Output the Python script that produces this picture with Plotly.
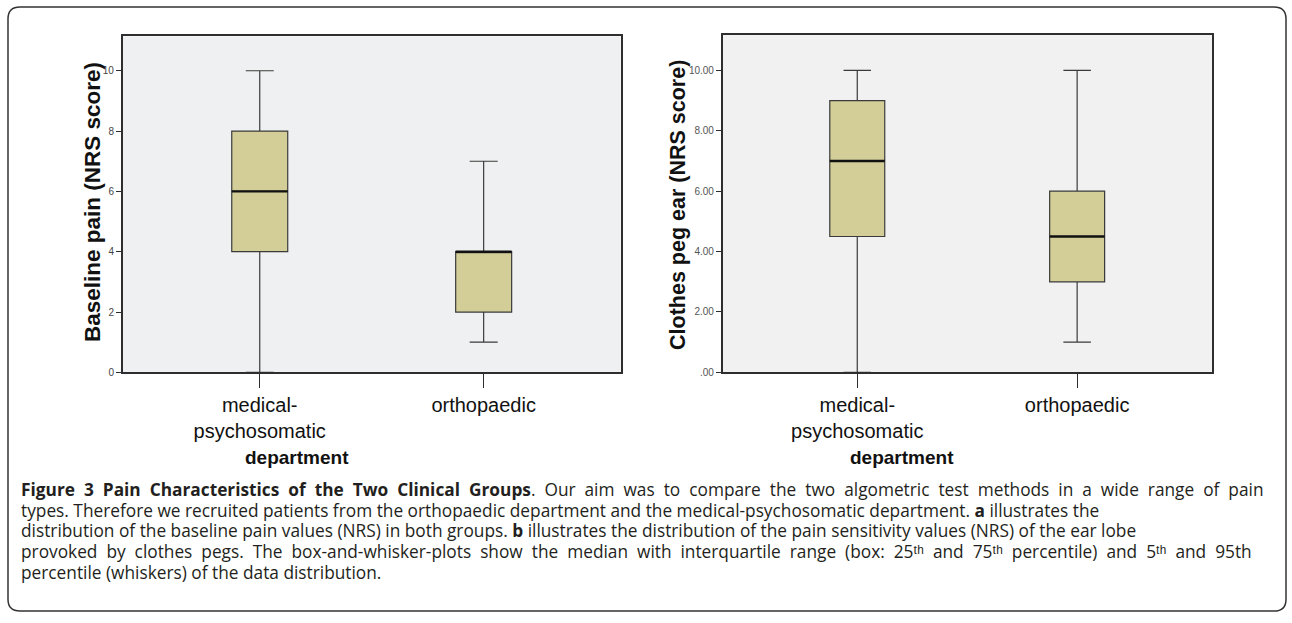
import plotly.graph_objects as go

W, H = 1292, 623

# ---- data ----
categories = ["medical-psychosomatic", "orthopaedic"]
cat_labels = ["medical-<br>psychosomatic", "orthopaedic"]

# panel a: Baseline pain (NRS score)
a_lower = [0, 1]
a_q1 = [4, 2]
a_median = [6, 4]
a_q3 = [8, 4]
a_upper = [10, 7]

# panel b: Clothes peg ear (NRS score)
b_lower = [0, 1]
b_q1 = [4.5, 3]
b_median = [7, 4.5]
b_q3 = [9, 6]
b_upper = [10, 10]

a_ticks = [0, 2, 4, 6, 8, 10]
b_ticks = [0, 2, 4, 6, 8, 10]
b_ticktext = [f"{v:.2f}".lstrip("0") if v < 1 else f"{v:.2f}" for v in b_ticks]

TH = "\u1d57\u02b0"  # superscript "th"
caption_lines = [
    ("<b>Figure 3 Pain Characteristics of the Two Clinical Groups</b>. Our aim was to compare the two algometric test methods in a wide range of pain", True),
    ("types. Therefore we recruited patients from the orthopaedic department and the medical-psychosomatic department. <b>a</b> illustrates the", False),
    ("distribution of the baseline pain values (NRS) in both groups. <b>b</b> illustrates the distribution of the pain sensitivity values (NRS) of the ear lobe", False),
    (f"provoked by clothes pegs. The box-and-whisker-plots show the median with interquartile range (box: 25{TH} and 75{TH} percentile) and 5{TH} and 95th", True),
    ("percentile (whiskers) of the data distribution.", False),
]

# ---- styling helpers ----
def px_x(p):
    return p / W

def px_y(p):
    return 1 - p / H

BOX_FILL = "#d3ce97"
BOX_W = 0.25

fig = go.Figure()

def add_boxes(xaxis, yaxis, lower, q1, med, q3, upper):
    fig.add_trace(go.Box(
        x=categories, lowerfence=lower, q1=q1, median=med, q3=q3, upperfence=upper,
        width=BOX_W, whiskerwidth=0.5, fillcolor=BOX_FILL,
        line=dict(color="#3a3a3a", width=1.2), boxpoints=False,
        xaxis=xaxis, yaxis=yaxis, showlegend=False, hoverinfo="skip",
    ))
    # thicker median line overlay
    fig.add_trace(go.Box(
        x=categories, lowerfence=med, q1=med, median=med, q3=med, upperfence=med,
        width=BOX_W, whiskerwidth=0, fillcolor="rgba(0,0,0,0)",
        line=dict(color="#111111", width=2.4), boxpoints=False,
        xaxis=xaxis, yaxis=yaxis, showlegend=False, hoverinfo="skip",
    ))

add_boxes("x", "y", a_lower, a_q1, a_median, a_q3, a_upper)
add_boxes("x2", "y2", b_lower, b_q1, b_median, b_q3, b_upper)

frame = dict(showline=True, mirror=True, linecolor="#2e2e2e", linewidth=1.5,
             showgrid=False, zeroline=False)

xcommon = dict(
    **frame, type="category", categoryorder="array", categoryarray=categories,
    tickmode="array", tickvals=categories, ticktext=cat_labels,
    ticks="outside", ticklen=14, tickcolor="#2e2e2e", tickwidth=1.2,
    tickfont=dict(family="Liberation Sans, Arial, sans-serif", size=20, color="#111"),
    range=[-0.612, 1.612],
)

fig.update_layout(
    width=W, height=H, autosize=False,
    margin=dict(l=0, r=0, t=0, b=0),
    paper_bgcolor="white",
    plot_bgcolor="#eff0f1",
    boxmode="overlay",
    xaxis=dict(**xcommon, domain=[px_x(122.7), px_x(620.7)], anchor="y"),
    yaxis=dict(**frame, domain=[px_y(376), px_y(36.7)], anchor="x",
               range=[0, 11.14], tickmode="array", tickvals=a_ticks,
               ticktext=[str(v) for v in a_ticks],
               ticks="outside", ticklen=5, tickcolor="#2e2e2e", tickwidth=1.2,
               tickfont=dict(family="Liberation Sans Narrow, Liberation Sans, Arial, sans-serif",
                             size=10, color="#444")),
    xaxis2=dict(**xcommon, domain=[px_x(722.7), px_x(1211.7)], anchor="y2"),
    yaxis2=dict(**frame, domain=[px_y(376), px_y(35.7)], anchor="x2",
                range=[0, 11.16], tickmode="array", tickvals=b_ticks,
                ticktext=b_ticktext,
                ticks="outside", ticklen=5, tickcolor="#2e2e2e", tickwidth=1.2,
                tickfont=dict(family="Liberation Sans Narrow, Liberation Sans, Arial, sans-serif",
                              size=10, color="#555")),
)

# second plot background slightly different via shape below traces
fig.add_shape(type="rect", xref="x2 domain", yref="y2 domain", x0=0, x1=1, y0=0, y1=1,
              fillcolor="#f0f1f0", line=dict(width=0), layer="below")

ann = []
ann.append(dict(text="<b>Baseline pain (NRS score)</b>", textangle=-90,
                x=px_x(92), y=px_y(204), xref="paper", yref="paper",
                showarrow=False, font=dict(family="Liberation Sans, Arial, sans-serif", size=22.5, color="#111"),
                xanchor="center", yanchor="middle"))
ann.append(dict(text="<b>Clothes peg ear (NRS score)</b>", textangle=-90,
                x=px_x(678), y=px_y(207), xref="paper", yref="paper",
                showarrow=False, font=dict(family="Liberation Sans, Arial, sans-serif", size=21.5, color="#111"),
                xanchor="center", yanchor="middle"))
dep_font = dict(family="Liberation Sans, Arial, sans-serif", size=19, color="#111")
ann.append(dict(text="<b>department</b>", x=px_x(297), y=px_y(462), xref="paper", yref="paper",
                showarrow=False, font=dep_font, xanchor="center", yanchor="middle"))
ann.append(dict(text="<b>department</b>", x=px_x(902), y=px_y(462), xref="paper", yref="paper",
                showarrow=False, font=dep_font, xanchor="center", yanchor="middle"))

cap_font = dict(family="Open Sans, sans-serif", size=17.3, color="#231f20")
for i, (line, justify) in enumerate(caption_lines):
    if justify:
        line = line.replace(" ", " &nbsp;").replace("<b &nbsp;", "<b ")
    ann.append(dict(text=line, x=px_x(19), y=px_y(494 + 21 * i), xref="paper", yref="paper",
                    showarrow=False, font=cap_font, xanchor="left", yanchor="middle", align="left"))
fig.update_layout(annotations=ann)

# outer rounded frame
x0, x1, y0, y1, r = 8, 1286, 7, 617, 12
def P(x, y):
    return f"{px_x(x):.5f},{px_y(y):.5f}"
path = (f"M {P(x0 + r, y0)} L {P(x1 - r, y0)} Q {P(x1, y0)} {P(x1, y0 + r)} "
        f"L {P(x1, y1 - r)} Q {P(x1, y1)} {P(x1 - r, y1)} "
        f"L {P(x0 + r, y1)} Q {P(x0, y1)} {P(x0, y1 - r)} "
        f"L {P(x0, y0 + r)} Q {P(x0, y0)} {P(x0 + r, y0)} Z")
fig.add_shape(type="path", path=path, xref="paper", yref="paper",
              line=dict(color="#333333", width=1.5))

fig.write_html("out.html", config={"displayModeBar": False},
               post_script="document.body.style.margin='0';document.body.style.overflow='hidden';")
